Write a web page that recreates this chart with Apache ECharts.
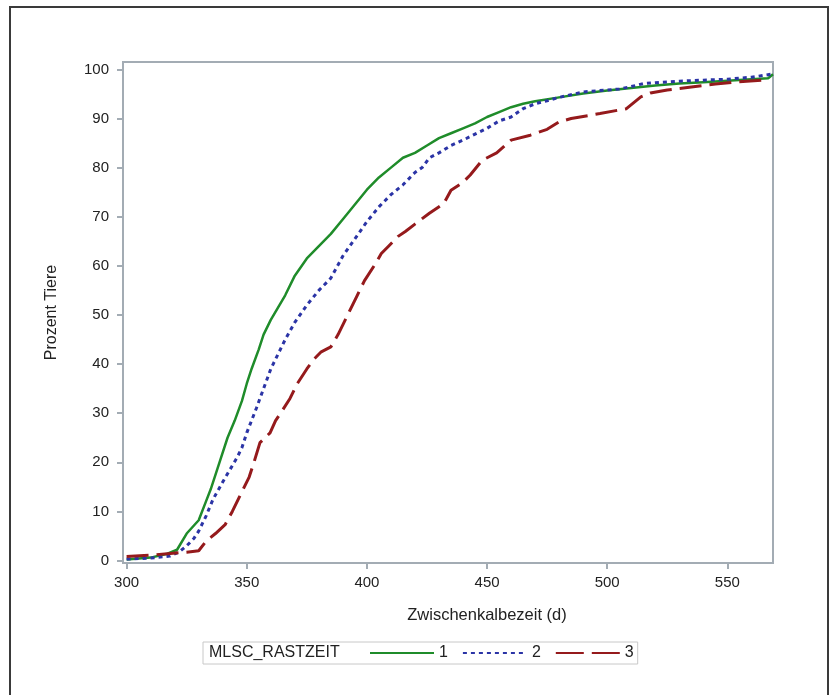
<!DOCTYPE html>
<html>
<head>
<meta charset="utf-8">
<script src="https://cdn.jsdelivr.net/npm/echarts@6/dist/echarts.min.js"></script>
<style>
  html, body { margin: 0; padding: 0; background: #fff; }
  #chart { width: 835px; height: 695px; }
</style>
</head>
<body>
<div id="chart"></div>
<script>
// Zwischenkalbezeit (d) vs. Prozent Tiere, per MLSC_RASTZEIT group
const xTicks = [300, 350, 400, 450, 500, 550];
const yTicks = [0, 10, 20, 30, 40, 50, 60, 70, 80, 90, 100];
const groupNames = ["1", "2", "3"];

const group1 = [
  [300, 0.2], [310, 0.6], [317, 1.4], [321, 2.2], [325, 5.5], [330, 8.2], [333, 12],
  [335, 14.5], [339, 20.5], [342, 25], [345, 28.5], [348, 32.5], [350, 36], [352, 39],
  [355, 43], [357, 46], [360, 49], [363, 51.5], [366, 54], [370, 58], [375, 61.5],
  [380, 64], [385, 66.5], [390, 69.5], [395, 72.5], [400, 75.5], [405, 78], [410, 80],
  [415, 82], [420, 83], [425, 84.5], [430, 86], [435, 87], [440, 88], [445, 89],
  [450, 90.3], [455, 91.3], [460, 92.3], [465, 93], [470, 93.5], [480, 94.3],
  [490, 95.1], [500, 95.7], [510, 96.2], [520, 96.7], [530, 97.1], [540, 97.4],
  [550, 97.7], [560, 98], [567, 98.2], [569, 99]
];
const group2 = [
  [300, 0.3], [310, 0.5], [318, 0.9], [322, 1.8], [325, 3], [328, 4.5], [330, 6],
  [333, 9], [336, 12.5], [340, 16], [343, 18.5], [346, 21], [348, 23], [350, 26],
  [352, 28.5], [354, 31], [357, 35], [360, 39], [363, 42], [366, 45], [370, 48.5],
  [375, 52], [380, 55], [385, 57.5], [390, 62], [395, 65.5], [400, 69], [405, 72],
  [410, 74.5], [415, 76.5], [420, 79], [423, 80], [426, 82], [430, 83], [435, 84.5],
  [440, 85.6], [445, 86.8], [450, 88], [455, 89.5], [460, 90.3], [465, 92], [470, 93],
  [475, 93.6], [480, 94.3], [490, 95.4], [500, 95.8], [505, 96], [510, 96.5],
  [515, 97.1], [520, 97.3], [530, 97.6], [540, 97.8], [550, 98], [560, 98.4], [568, 99]
];
const group3 = [
  [300, 0.8], [310, 1.1], [317, 1.4], [325, 1.7], [330, 2], [333, 3.9], [337, 5.5],
  [341, 7.3], [344, 10], [347, 13], [351, 17], [353, 20], [355.5, 24], [359.7, 26],
  [362, 28.5], [365, 30.7], [368, 33], [371, 36], [375, 39], [378, 41], [381, 42.5],
  [385, 43.5], [388, 46], [391, 49], [394, 52], [396, 54], [399, 57], [403, 60],
  [406, 62.5], [409, 64], [413, 66], [416, 67], [420, 68.5], [426, 70.7], [432, 72.7],
  [435, 75.4], [440, 77], [443, 78.5], [448, 81.5], [454, 83], [460, 85.6], [468, 86.6],
  [475, 87.8], [480, 89.3], [485, 90], [497, 91], [508, 92], [514, 94.4], [518, 95.2],
  [525, 95.8], [535, 96.4], [545, 97], [553, 97.4], [567, 97.9]
];

const font = "'Liberation Sans', Arial, sans-serif";
const frameColor = "#a3acb4";

const chart = echarts.init(document.getElementById("chart"));

const axisCommon = {
  axisLine: { show: true, onZero: false, lineStyle: { color: frameColor, width: 2 } },
  axisTick: { show: true, inside: false, length: 6, lineStyle: { color: frameColor, width: 2 } },
  splitLine: { show: false },
};

const option = {
  backgroundColor: "#fff",
  animation: false,
  textStyle: { fontFamily: font },
  grid: {
    left: 123, right: 62, top: 62, bottom: 132,
    show: true, borderColor: frameColor, borderWidth: 2, backgroundColor: "transparent",
  },
  xAxis: {
    type: "value",
    min: 298.5,
    max: 569,
    name: "Zwischenkalbezeit (d)",
    nameLocation: "middle",
    nameGap: 44,
    nameTextStyle: { fontSize: 16.5, color: "#222", fontFamily: font, padding: [0, 0, 0, 78] },
    ...axisCommon,
    axisTick: { ...axisCommon.axisTick, customValues: xTicks },
    axisLabel: { customValues: xTicks, fontSize: 15, color: "#222", margin: 12, fontFamily: font },
  },
  yAxis: {
    type: "value",
    min: -0.5,
    max: 101.5,
    name: "Prozent Tiere",
    nameLocation: "middle",
    nameGap: 63,
    nameRotate: 90,
    nameTextStyle: { fontSize: 16, color: "#222", fontFamily: font },
    ...axisCommon,
    axisTick: { ...axisCommon.axisTick, customValues: yTicks },
    axisLabel: { customValues: yTicks, fontSize: 15, color: "#222", margin: 14, fontFamily: font },
  },
  legend: {
    left: 203,
    top: 642,
    orient: "horizontal",
    data: [
      { name: groupNames[0] },
      { name: groupNames[1] },
      { name: groupNames[2], lineStyle: { type: [28, 8] } },
    ],
    itemWidth: 64,
    itemHeight: 14,
    itemGap: 14,
    padding: [3, 4, 3, 166],
    borderColor: "#c8c8c8",
    borderWidth: 1,
    itemStyle: { opacity: 0 },
    textStyle: { fontSize: 16, color: "#222", fontFamily: font },
  },
  graphic: [
    {
      type: "text",
      left: 209,
      top: 645,
      style: { text: "MLSC_RASTZEIT", fontSize: 16, fill: "#222", fontFamily: font },
    },
    {
      type: "rect",
      shape: { x: 10, y: 7, width: 818, height: 720 },
      style: { fill: "none", stroke: "#3a3a3a", lineWidth: 2 },
      silent: true,
    },
  ],
  series: [
    {
      name: groupNames[0],
      type: "line",
      data: group1,
      symbol: "none",
      lineStyle: { color: "#1f8c2a", width: 2.5, type: "solid" },
      itemStyle: { color: "#1f8c2a" },
    },
    {
      name: groupNames[1],
      type: "line",
      data: group2,
      symbol: "none",
      lineStyle: { color: "#2b34a6", width: 3, type: [4, 4] },
      itemStyle: { color: "#2b34a6" },
    },
    {
      name: groupNames[2],
      type: "line",
      data: group3,
      symbol: "none",
      lineStyle: { color: "#951a1c", width: 3, type: [22, 8] },
      itemStyle: { color: "#951a1c" },
    },
  ],
};

chart.setOption(option);
</script>
</body>
</html>
